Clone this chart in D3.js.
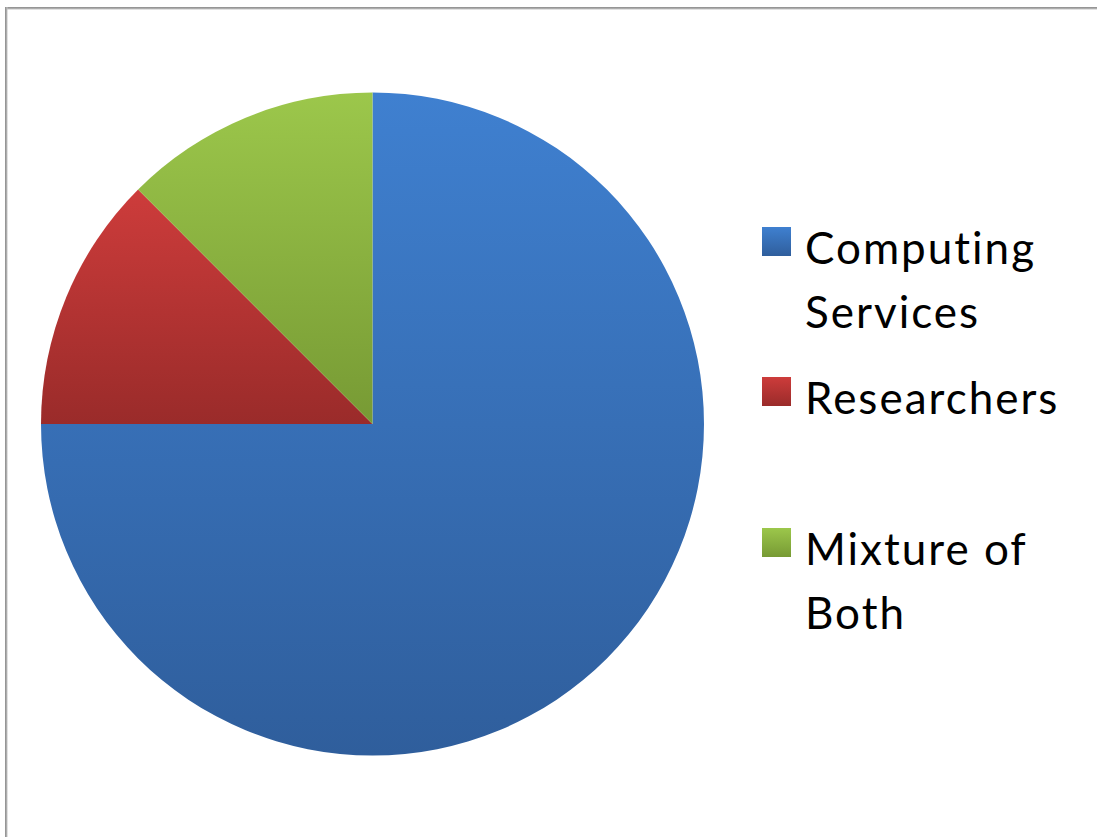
<!DOCTYPE html>
<html>
<head>
<meta charset="utf-8">
<script src="https://cdn.jsdelivr.net/npm/d3@7/dist/d3.min.js"></script>
<style>
  html, body { margin: 0; padding: 0; background: #fff; }
  svg { display: block; }
</style>
</head>
<body>
<svg id="chart" width="1097" height="837"></svg>
<script>
// Who provides the service: share of responses
const categories = ["Computing Services", "Researchers", "Mixture of Both"];
const values = [75, 12.5, 12.5];
const legendLines = [["Computing", "Services"], ["Researchers"], ["Mixture of", "Both"]];
const topColors = ["#3f80d0", "#cd3c3b", "#9cc74b"];
const bottomColors = ["#2f5e9c", "#9a2b2a", "#779a34"];

const svg = d3.select("#chart");
const W = 1097, H = 837;

// frame
const defs = svg.append("defs");
const frameTop = defs.append("linearGradient").attr("id", "frameTop")
  .attr("x1", 0).attr("y1", 0).attr("x2", 0).attr("y2", 1);
frameTop.append("stop").attr("offset", 0).attr("stop-color", "#8a8a8a");
frameTop.append("stop").attr("offset", 1).attr("stop-color", "#c4c4c4");
const frameLeft = defs.append("linearGradient").attr("id", "frameLeft")
  .attr("x1", 0).attr("y1", 0).attr("x2", 1).attr("y2", 0);
frameLeft.append("stop").attr("offset", 0).attr("stop-color", "#8a8a8a");
frameLeft.append("stop").attr("offset", 1).attr("stop-color", "#c4c4c4");
svg.append("rect").attr("x", 5).attr("y", 7).attr("width", W - 5).attr("height", 2.5).attr("fill", "url(#frameTop)");
svg.append("rect").attr("x", 5).attr("y", 7).attr("width", 2.5).attr("height", H - 7).attr("fill", "url(#frameLeft)");

// gradients per slice
categories.forEach((c, i) => {
  const g = defs.append("linearGradient").attr("id", "grad" + i)
    .attr("x1", 0).attr("y1", 0).attr("x2", 0).attr("y2", 1);
  g.append("stop").attr("offset", 0).attr("stop-color", topColors[i]);
  g.append("stop").attr("offset", 1).attr("stop-color", bottomColors[i]);
});

const cx = 372.5, cy = 424, R = 331.5;
const pie = d3.pie().sort(null).value(d => d);
const arc = d3.arc().innerRadius(0).outerRadius(R);

svg.append("g").attr("transform", `translate(${cx},${cy})`)
  .selectAll("path")
  .data(pie(values))
  .join("path")
  .attr("d", arc)
  .attr("fill", (d, i) => `url(#grad${i})`);

// legend
const legendX = 762, sq = 29;
const legendTops = [227, 377, 528];
const lineH = 64;
const lg = svg.append("g");
categories.forEach((c, i) => {
  lg.append("rect").attr("x", legendX).attr("y", legendTops[i])
    .attr("width", sq).attr("height", sq).attr("fill", `url(#grad${i})`);
  const t = lg.append("text")
    .attr("x", 805).attr("y", legendTops[i] + 37)
    .attr("font-family", "Lato, 'Open Sans', sans-serif")
    .attr("font-size", 44)
    .attr("letter-spacing", 2)
    .attr("fill", "#000");
  legendLines[i].forEach((ln, j) => {
    t.append("tspan").attr("x", 805).attr("dy", j === 0 ? 0 : lineH).text(ln);
  });
});
</script>
</body>
</html>
